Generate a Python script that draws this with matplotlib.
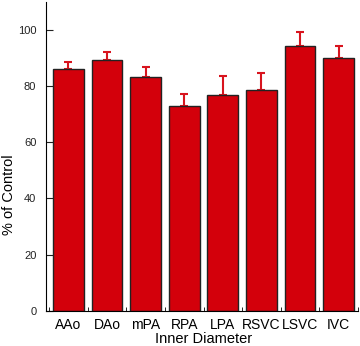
import numpy as np
import matplotlib.pyplot as plt

plt.rcParams['font.family'] = ['Liberation Sans', 'DejaVu Sans']

# data
labels = ['AAo', 'DAo', 'mPA', 'RPA', 'LPA', 'RSVC', 'LSVC', 'IVC']
values = [86.3, 89.3, 83.2, 73.1, 77.0, 78.8, 94.2, 90.0]
errors = [2.4, 3.0, 3.5, 4.2, 6.5, 5.8, 5.3, 4.5]

x = np.arange(len(labels))

fig = plt.figure(figsize=(3.6, 3.46), dpi=100)
ax = fig.add_axes([0.128, 0.102, 0.866, 0.892])

ax.bar(x, values, width=0.8, color='#d3000b', edgecolor='#222222', linewidth=1.0, zorder=2)
ax.errorbar(x, values, yerr=[np.zeros(len(errors)), errors], fmt='none',
            ecolor='#d8141e', elinewidth=1.5, capsize=3, capthick=1.5, zorder=1)

ax.set_xlim(-0.58, 7.5)
ax.set_ylim(0, 110)
ax.set_yticks([0, 20, 40, 60, 80, 100])
ax.set_xticks(x)
ax.set_xticklabels(labels)
ax.set_xticks(np.append(x - 0.5, 7.5), minor=True)
ax.tick_params(axis='x', which='major', length=0, labelsize=10, pad=5)
ax.tick_params(axis='x', which='minor', direction='in', length=3)
ax.tick_params(axis='y', labelsize=8, length=5, direction='in', pad=7, colors='#222222')

for s in ['top', 'right']:
    ax.spines[s].set_visible(False)

fig.text(9 / 360, 1 - 195 / 346, '% of Control', fontsize=10.5, rotation=90,
         ha='center', va='center')
ax.set_xlabel('Inner Diameter', fontsize=10.5, va='top')
ax.xaxis.set_label_coords(0.505, -0.07)

fig.savefig('out.png', dpi=100)
